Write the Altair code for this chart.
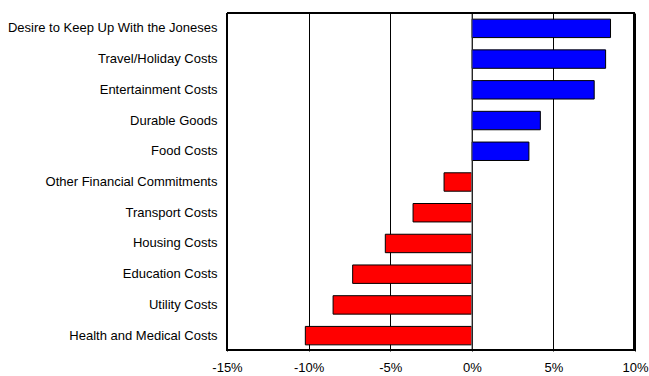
import altair as alt
import pandas as pd

categories = [
    "Desire to Keep Up With the Joneses",
    "Travel/Holiday Costs",
    "Entertainment Costs",
    "Durable Goods",
    "Food Costs",
    "Other Financial Commitments",
    "Transport Costs",
    "Housing Costs",
    "Education Costs",
    "Utility Costs",
    "Health and Medical Costs",
]
values = [8.5, 8.2, 7.5, 4.2, 3.5, -1.7, -3.6, -5.3, -7.3, -8.5, -10.2]
tick_values = [-15, -10, -5, 0, 5, 10]
title_text = "Spending Pressures by Category: Net Balance of Households Expecting Change"

df = pd.DataFrame({"category": categories, "value": values})
df["sign"] = ["pos" if v >= 0 else "neg" for v in values]

x_scale = alt.Scale(domain=[-15, 10], nice=False, zero=False)

bars = alt.Chart(df).mark_bar(stroke="black", strokeWidth=1).encode(
    y=alt.Y("category:N", sort=categories,
            scale=alt.Scale(paddingInner=0.4, paddingOuter=0.2),
            axis=alt.Axis(title=None, ticks=False, domain=False, labelPadding=10,
                          labelFontSize=13, labelFont="Liberation Sans",
                          labelColor="black", labelLimit=300)),
    x=alt.X("value:Q", scale=x_scale,
            axis=alt.Axis(title=None, values=tick_values, ticks=False, domain=False,
                          grid=True, gridColor="black", gridWidth=1,
                          labelExpr="datum.value + '%'", labelPadding=10, labelFlush=False,
                          labelFontSize=13, labelFont="Liberation Sans",
                          labelColor="black")),
    color=alt.Color("sign:N", scale=alt.Scale(domain=["pos", "neg"], range=["#0000FF", "#FF0000"]),
                    legend=None),
)

zero_df = pd.DataFrame({"z": [0]})
zero_line = alt.Chart(zero_df).mark_rule(color="#808080", strokeWidth=1).encode(
    x=alt.X("z:Q", scale=x_scale)
)

edge = alt.Chart(zero_df).mark_rule(color="black", strokeWidth=2)
top_edge = edge.encode(y=alt.value(0), x=alt.value(0), x2=alt.value(408))
bottom_edge = edge.encode(y=alt.value(337), x=alt.value(0), x2=alt.value(408))
left_edge = edge.encode(x=alt.value(0), y=alt.value(0), y2=alt.value(338))
right_edge = edge.encode(x=alt.value(407), y=alt.value(0), y2=alt.value(338))

chart = alt.layer(bars, zero_line, top_edge, bottom_edge, left_edge, right_edge).properties(
    width=408,
    height=338,
    background="white",
    autosize=alt.AutoSizeParams(type="none"),
    padding={"left": 227, "top": 13, "right": 14, "bottom": 25},
    title=alt.TitleParams(title_text, font="Liberation Sans", fontSize=15, fontWeight="bold",
                          anchor="middle", frame="bounds", baseline="alphabetic", offset=11,
                          color="black"),
).configure_view(stroke="transparent")

chart.save("out.html", embed_options={"renderer": "svg", "actions": False})
